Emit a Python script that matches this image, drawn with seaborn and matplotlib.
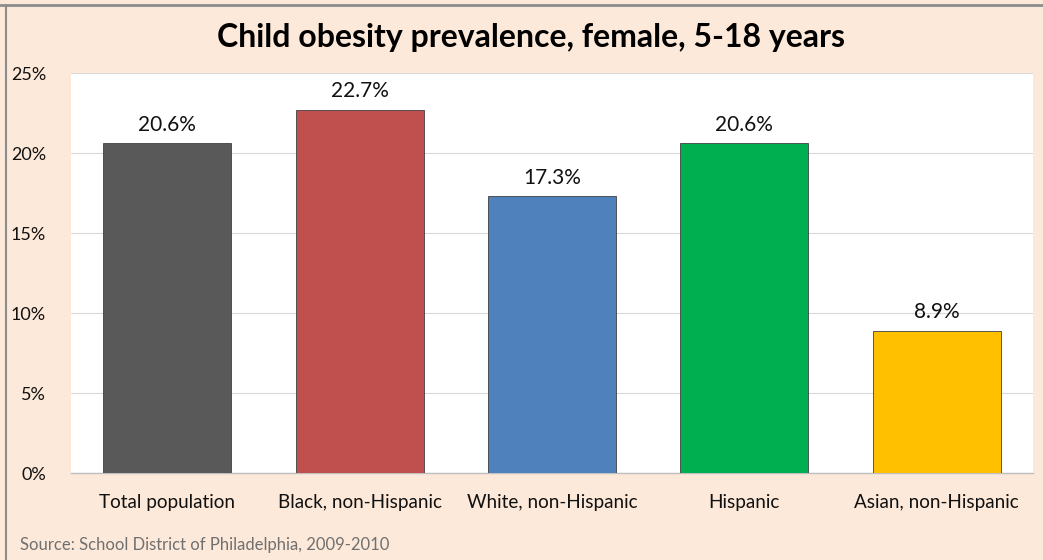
import matplotlib
matplotlib.use("Agg")
import matplotlib.pyplot as plt
from matplotlib.lines import Line2D
from matplotlib.ticker import MultipleLocator, PercentFormatter
import seaborn as sns
import pandas as pd

categories = ["Total population", "Black, non-Hispanic", "White, non-Hispanic",
              "Hispanic", "Asian, non-Hispanic"]
prevalence = [20.6, 22.7, 17.3, 20.6, 8.9]
bar_colors = ["#595959", "#C0504D", "#4F81BD", "#00B050", "#FFC000"]
title = "Child obesity prevalence, female, 5-18 years"
source = "Source: School District of Philadelphia, 2009-2010"

sns.set_theme(style="white")
plt.rcParams["font.family"] = ["Lato", "DejaVu Sans"]

df = pd.DataFrame({"group": categories, "value": prevalence})

bg = "#FDE9D9"
fig = plt.figure(figsize=(10.43, 5.6), dpi=100, facecolor=bg)
ax = fig.add_axes([71 / 1043, 1 - 473 / 560, (1033 - 71) / 1043, (473 - 73) / 560])
ax.set_facecolor("white")

sns.barplot(data=df, x="group", y="value", hue="group", palette=bar_colors,
            legend=False, width=0.665, edgecolor="#404040", linewidth=0.6,
            saturation=1, ax=ax, zorder=3)

ax.set_ylim(0, 25)
ax.yaxis.set_major_locator(MultipleLocator(5))
ax.yaxis.set_major_formatter(PercentFormatter(decimals=0))
ax.grid(axis="y", color="#D9D9D9", linewidth=0.8, zorder=0)
ax.set_axisbelow(True)
ax.set_xlabel("")
ax.set_ylabel("")
ax.tick_params(axis="y", labelsize=13, length=0, pad=18, colors="#111111")
ax.tick_params(axis="x", labelsize=13.6, length=0, pad=15, colors="#111111")

for side in ["top", "right", "left"]:
    ax.spines[side].set_visible(False)
ax.spines["bottom"].set_color("#BFBFBF")
ax.spines["bottom"].set_linewidth(1.0)

for i, v in enumerate(prevalence):
    ax.annotate(f"{v:.1f}%", (i, v), xytext=(0, 6), textcoords="offset points",
                ha="center", va="bottom", fontsize=15, color="#111111")

fig.text(531 / 1043, 1 - 37 / 560, title, ha="center", va="center",
         fontsize=23, fontweight="bold", color="black")
fig.text(20 / 1043, 1 - 545 / 560, source, ha="left", va="center",
         fontsize=12, color="#707070")

# outer frame edges of the chart panel
fig.add_artist(Line2D([0, 1], [1 - 5 / 560, 1 - 5 / 560], transform=fig.transFigure,
                      color="#8C8C8C", linewidth=2))
fig.add_artist(Line2D([6 / 1043, 6 / 1043], [0, 1 - 5 / 560], transform=fig.transFigure,
                      color="#8C8C8C", linewidth=1.5))

fig.savefig("out.png", dpi=100, facecolor=bg)
